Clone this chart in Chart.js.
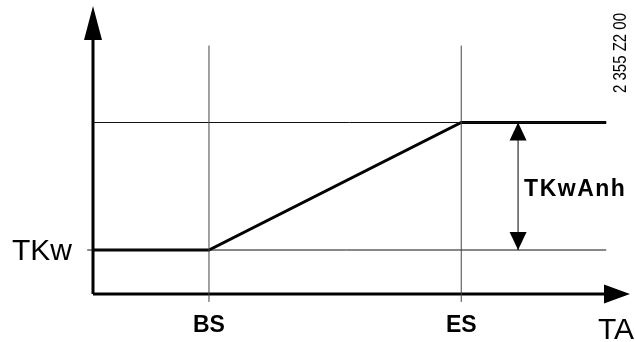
<!DOCTYPE html>
<html>
<head>
<meta charset="utf-8">
<script src="https://cdn.jsdelivr.net/npm/chart.js@4/dist/chart.umd.min.js"></script>
<style>
html,body{margin:0;padding:0;background:#fff;}
#wrap{width:635px;height:342px;position:relative;}
</style>
</head>
<body>
<div id="wrap"><canvas id="c" width="635" height="342"></canvas></div>
<script>
// Schematic values (arbitrary units)
const xAxisMax = 9.26;       // TA axis arrow tip
const yAxisMax = 6.55;       // y axis arrow tip
const BS = 2.0;              // start point
const ES = 6.35;             // end point
const xEnd = 8.85;           // end of curve / reference lines
const TKw = 1.0;             // base value
const TKwTop = 3.9;          // TKw + TKwAnh
const vLineTop = 5.65;       // top of BS / ES guide lines
const vLineBottom = -0.18;   // guide lines extend below axis
const tickLeft = -0.1;       // TKw guide extends left of axis
const dimX = 7.33;           // TKwAnh dimension arrow position

const curveX = [0, BS, ES, xEnd];
const curveY = [TKw, TKw, TKwTop, TKwTop];

const labels = { yName: "TKw", xName: "TA", bs: "BS", es: "ES", delta: "TKwAnh", code: "2 355 Z2 00" };

const pts = (xs, ys) => xs.map((x, i) => ({ x: x, y: ys[i] }));

const lineDs = (data, color, width) => ({
  type: 'line', data: data, borderColor: color, borderWidth: width,
  pointRadius: 0, fill: false, tension: 0, clip: false, borderCapStyle: 'butt', borderJoinStyle: 'miter'
});

const overlay = {
  id: 'overlay',
  afterDatasetsDraw(chart) {
    const ctx = chart.ctx;
    const xs = chart.scales.x, ys = chart.scales.y;
    const px = v => xs.getPixelForValue(v), py = v => ys.getPixelForValue(v);
    ctx.save();
    ctx.fillStyle = '#000';
    const ox = px(0), oy = py(0);
    // y-axis arrow
    let tipY = py(yAxisMax);
    ctx.beginPath();
    ctx.moveTo(ox, tipY);
    ctx.lineTo(ox - 9, tipY + 34);
    ctx.lineTo(ox + 9, tipY + 34);
    ctx.closePath(); ctx.fill();
    // x-axis arrow
    let tipX = px(xAxisMax);
    ctx.beginPath();
    ctx.moveTo(tipX, oy);
    ctx.lineTo(tipX - 26, oy - 9.5);
    ctx.lineTo(tipX - 26, oy + 9.5);
    ctx.closePath(); ctx.fill();
    // dimension arrows
    const dx = px(dimX), t = py(TKwTop), b = py(TKw);
    ctx.beginPath();
    ctx.moveTo(dx, t); ctx.lineTo(dx - 8.5, t + 18); ctx.lineTo(dx + 8.5, t + 18); ctx.closePath(); ctx.fill();
    ctx.beginPath();
    ctx.moveTo(dx, b); ctx.lineTo(dx - 8.5, b - 18); ctx.lineTo(dx + 8.5, b - 18); ctx.closePath(); ctx.fill();

    // texts
    ctx.textBaseline = 'alphabetic';
    ctx.font = '30px "Liberation Sans", Arial, sans-serif';
    ctx.textAlign = 'right';
    ctx.fillText(labels.yName, ox - 21, py(TKw) + 10);
    ctx.textAlign = 'left';
    ctx.fillText(labels.xName, tipX - 32, oy + 45);
    ctx.font = 'bold 23px "Liberation Sans", Arial, sans-serif';
    ctx.textAlign = 'center';
    ctx.fillText(labels.bs, px(BS), oy + 38);
    ctx.fillText(labels.es, px(ES), oy + 38);
    ctx.textAlign = 'left';
    ctx.font = 'bold 23px "Liberation Sans", Arial, sans-serif';
    try { ctx.letterSpacing = '1.5px'; } catch (e) {}
    ctx.fillText(labels.delta, dx + 6, (t + b) / 2 + 10);
    try { ctx.letterSpacing = '0px'; } catch (e) {}
    // rotated code
    ctx.save();
    ctx.translate(tipX - 9, py(yAxisMax) + 47);
    ctx.rotate(-Math.PI / 2);
    ctx.font = '19px "Liberation Sans", Arial, sans-serif';
    ctx.textAlign = 'center';
    ctx.textBaseline = 'middle';
    ctx.fillText(labels.code, 0, 0, 80);
    ctx.restore();
    ctx.restore();
  }
};

new Chart(document.getElementById('c'), {
  data: {
    datasets: [
      lineDs(pts([BS, BS], [vLineBottom, vLineTop]), '#444', 1),
      lineDs(pts([ES, ES], [vLineBottom, vLineTop]), '#444', 1),
      lineDs(pts([tickLeft, xEnd], [TKw, TKw]), '#111', 1),
      lineDs(pts([0, xEnd], [TKwTop, TKwTop]), '#111', 1),
      lineDs(pts([dimX, dimX], [TKw, TKwTop]), '#000', 1),
      lineDs(pts(curveX, curveY), '#000', 3),
      lineDs(pts([0, xAxisMax - 0.3], [0, 0]), '#000', 3),
      lineDs(pts([0, 0], [0, yAxisMax - 0.4]), '#000', 3)
    ]
  },
  options: {
    responsive: false,
    animation: false,
    devicePixelRatio: 1,
    layout: { padding: { left: 93, right: 5, top: 6, bottom: 48 } },
    plugins: { legend: { display: false }, tooltip: { enabled: false } },
    scales: {
      x: { type: 'linear', min: 0, max: xAxisMax, display: false },
      y: { type: 'linear', min: 0, max: yAxisMax, display: false }
    }
  },
  plugins: [overlay]
});
</script>
</body>
</html>
